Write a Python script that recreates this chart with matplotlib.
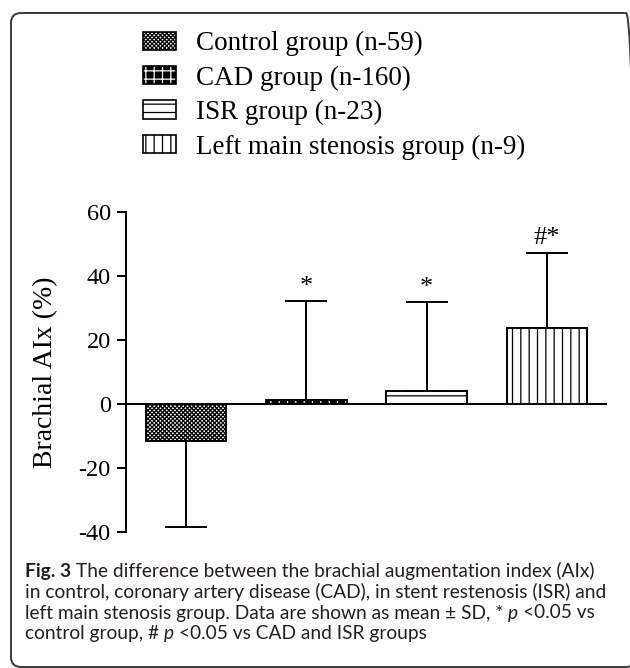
import matplotlib
matplotlib.use('Agg')
import numpy as np
import matplotlib.pyplot as plt
from matplotlib.patches import Patch, FancyBboxPatch

groups = ['Control group (n-59)', 'CAD group (n-160)', 'ISR group (n-23)',
          'Left main stenosis group (n-9)']
means = [-11.5, 1.3, 4.0, 23.6]
sds = [26.8, 30.8, 27.8, 23.7]
marks = ['', '*', '*', '#*']
yticks = [-40, -20, 0, 20, 40, 60]

caption = [
    [("Fig. 3", 'bold', 'normal'), ("The difference between the brachial augmentation index (AIx)", 'normal', 'normal')],
    [("in control, coronary artery disease (CAD), in stent restenosis (ISR) and", 'normal', 'normal')],
    [("left main stenosis group. Data are shown as mean \u00b1 SD, *", 'normal', 'normal'), ("p", 'normal', 'italic'),
     ("<0.05 vs", 'normal', 'normal')],
    [("control group, #", 'normal', 'normal'), ("p", 'normal', 'italic'), ("<0.05 vs CAD and ISR groups", 'normal', 'normal')],
]

plt.rcParams['font.family'] = 'Liberation Serif'
plt.rcParams['axes.unicode_minus'] = False
plt.rcParams['hatch.linewidth'] = 0.9

W, H = 630, 668
fig = plt.figure(figsize=(W / 100, H / 100), dpi=100)

# rounded frame round the whole figure
frame = FancyBboxPatch((0.11, 0.01), 6.25, 6.54, boxstyle='round,pad=0,rounding_size=0.1',
                       transform=fig.dpi_scale_trans, facecolor='none', edgecolor='#3a3a3a', linewidth=1.4)
fig.patches.append(frame)

ax = fig.add_axes([126 / W, 1 - 532 / H, (607 - 126) / W, (532 - 212) / H])

x = np.arange(len(groups))
faces = ['white', 'black', 'white', 'white']
hatches = ['xxxxxxxx', '++', '--', '||']
hcolors = ['black', 'white', 'black', 'black']
for i in range(len(groups)):
    ax.bar(x[i], means[i], width=0.67, color=faces[i], edgecolor=hcolors[i], hatch=hatches[i], linewidth=0)
    ax.bar(x[i], means[i], width=0.67, color='none', edgecolor='black', linewidth=1.4)

lower = [s if m < 0 else 0 for m, s in zip(means, sds)]
upper = [s if m >= 0 else 0 for m, s in zip(means, sds)]
ax.errorbar(x, means, yerr=[lower, upper], fmt='none', ecolor='black', elinewidth=1.4,
            capsize=14.8, capthick=1.4, zorder=3)

for i, t in enumerate(marks):
    if t:
        ax.annotate(t, xy=(x[i], means[i] + sds[i]), xytext=(0, 10.5), textcoords='offset points',
                    ha='center', va='center', fontsize=19)

ax.axhline(0, color='black', linewidth=1.4, zorder=4)
ax.set_xlim(-0.5, 3.5)
ax.set_ylim(-40, 60)
ax.set_yticks(yticks)
ax.set_xticks([])
for s in ['top', 'right', 'bottom']:
    ax.spines[s].set_visible(False)
ax.spines['left'].set_linewidth(1.4)
ax.tick_params(axis='y', direction='out', length=6.5, width=1.4, pad=4.5, labelsize=17.5)
ax.set_ylabel('Brachial AIx (%)', fontsize=20)
ax.yaxis.set_label_coords(-0.141, 0.5)

# legend: hatched box with a black outline on top
handles = [(Patch(facecolor=faces[i], edgecolor=hcolors[i], hatch=hatches[i], linewidth=0),
            Patch(facecolor='none', edgecolor='black', linewidth=1.2)) for i in range(4)]
leg = fig.legend(handles, groups, loc='upper left', bbox_to_anchor=(143 / W, 1 - 31 / H), frameon=False,
                 fontsize=19.5, borderpad=0, handlelength=1.22, handleheight=0.66, handletextpad=0.74,
                 labelspacing=0.345, borderaxespad=0)

# caption, drawn piece by piece so that bold and italic parts fit in a line
fig.canvas.draw()
renderer = fig.canvas.get_renderer()
cap_font = dict(family='Lato', size=13.8, color='#231f20')


def text_width(s, weight='normal', style='normal'):
    t = fig.text(0, 0, s, fontweight=weight, fontstyle=style, **cap_font)
    w = t.get_window_extent(renderer).width
    t.remove()
    return w


space = text_width('a a') - text_width('aa')
baselines = [577, 598, 618.5, 639]
for line, yb in zip(caption, baselines):
    xp = 25
    for s, weight, style in line:
        fig.text(xp / W, 1 - yb / H, s, fontweight=weight, fontstyle=style, va='baseline', **cap_font)
        xp += text_width(s, weight, style) + space

fig.savefig('out.png', dpi=100)
